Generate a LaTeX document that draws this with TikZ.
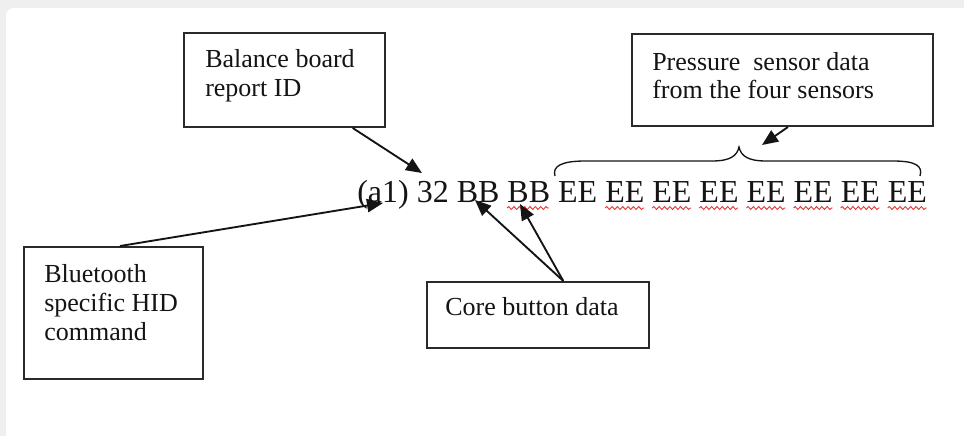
\documentclass[tikz,border=0pt]{standalone}
\usepackage{fontspec}
\setmainfont{Liberation Serif}
\usetikzlibrary{arrows.meta,calc,decorations.pathmorphing}
\definecolor{ink}{HTML}{141414}
\definecolor{boxline}{HTML}{2A2A2A}
\definecolor{frame}{HTML}{EFEFEF}
\definecolor{spell}{HTML}{E83A3A}
\begin{document}
\begin{tikzpicture}[x=0.75pt,y=-0.75pt,
  box/.style={draw=boxline, line width=1.5pt, rectangle, inner sep=0pt},
  lbl/.style={anchor=base west, inner sep=0pt, font=\fontsize{19.5}{22}\selectfont, text=ink},
  arr/.style={draw=ink, line width=1.4pt, -{Triangle[length=12pt,width=10pt]}},
  squiggle/.style={draw=spell, line width=0.7pt, decorate,
    decoration={snake, amplitude=1.1pt, segment length=4pt}}]
\useasboundingbox (0,0) rectangle (964,436);

% page background with a light frame at the top and left
\begin{scope}
  \clip (0,0) rectangle (964,436);
  \fill[frame] (0,0) rectangle (964,436);
  \fill[white, rounded corners=6pt] (6,8) rectangle (990,460);
\end{scope}

% the report bytes
\node[anchor=base west, inner sep=0pt, font=\fontsize{24}{28}\selectfont, text=ink]
  (data) at (357,202) {(a1) 32 BB BB EE EE EE EE EE EE EE EE};

% spelling marks under the second BB and the later EE pairs
\draw[squiggle] (507,208) -- (549,208);
\foreach \k in {1,...,7}
  \draw[squiggle] ({558+\k*47.1},208) -- ({597+\k*47.1},208);

% label boxes
\node[box, minimum width=150.75pt, minimum height=70.5pt] (bal)  at (284.5,80) {};
\node[box, minimum width=225.75pt, minimum height=69pt]   (pres) at (782.5,80) {};
\node[box, minimum width=134.25pt, minimum height=99pt]   (blue) at (113.5,313) {};
\node[box, minimum width=166.5pt,  minimum height=49.5pt] (core) at (538,315) {};

% box texts
\node[lbl] (bal1)  at (205,67)  {Balance board};
\node[lbl] (bal2)  at (205,96)  {report ID};
\node[lbl] (pres1) at (652,70)  {Pressure~ sensor data};
\node[lbl] (pres2) at (652,98)  {from the four sensors};
\node[lbl] (blue1) at (44,282)  {Bluetooth};
\node[lbl] (blue2) at (44,311)  {specific HID};
\node[lbl] (blue3) at (44,340)  {command};
\node[lbl] (core1) at (445,315) {Core button data};

% brace over the sensor bytes
\draw[draw=ink, line width=1pt]
  (555,176) .. controls (552,166) and (562,161) .. (585,161)
  -- (712,161) .. controls (730,161) and (737,156) .. (739,147)
  .. controls (741,156) and (748,161) .. (766,161)
  -- (893,161) .. controls (916,161) and (923,166) .. (920,176);
\coordinate (bracetip) at (739,147);

% arrow targets
\coordinate (tipID)   at (422,173);
\coordinate (tipCmd)  at (383,203);
\coordinate (tipBB1)  at (475,200);
\coordinate (tipBB2)  at (520,204);
\coordinate (tipPres) at (762,145);

% connectors
\draw[arr] ($(bal.south west)!0.836!(bal.south east)$) -- (tipID);
\draw[arr] ($(blue.north west)!0.536!(blue.north east)$) -- (tipCmd);
\draw[arr] ($(core.north west)!0.613!(core.north east)$) -- (tipBB1);
\draw[arr] ($(core.north west)!0.613!(core.north east)$) -- (tipBB2);
\draw[arr] ($(pres.south west)!0.518!(pres.south east)$) -- (tipPres);
\end{tikzpicture}
\end{document}
